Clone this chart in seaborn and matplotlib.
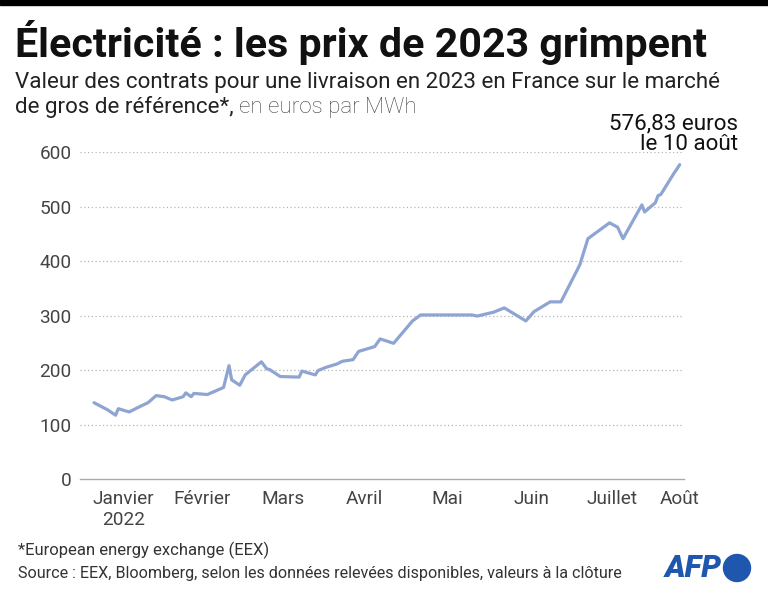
import matplotlib
matplotlib.use("Agg")
import matplotlib.pyplot as plt
from matplotlib.patches import Rectangle, Ellipse
import pandas as pd
import seaborn as sns

# Contrat 2023, marché de gros France (euros/MWh)
dates = [
    "2022-01-05", "2022-01-10", "2022-01-13", "2022-01-14", "2022-01-18",
    "2022-01-22", "2022-01-25", "2022-01-28", "2022-01-31", "2022-02-03",
    "2022-02-07", "2022-02-08", "2022-02-10", "2022-02-11", "2022-02-16",
    "2022-02-22", "2022-02-24", "2022-02-25", "2022-02-28", "2022-03-02",
    "2022-03-03", "2022-03-08", "2022-03-10", "2022-03-11", "2022-03-15",
    "2022-03-22", "2022-03-23", "2022-03-28", "2022-03-29", "2022-04-01",
    "2022-04-05", "2022-04-07", "2022-04-11", "2022-04-13", "2022-04-19",
    "2022-04-21", "2022-04-26", "2022-05-03", "2022-05-06", "2022-05-25",
    "2022-05-27", "2022-06-02", "2022-06-06", "2022-06-14", "2022-06-17",
    "2022-06-23", "2022-06-27", "2022-07-04", "2022-07-07", "2022-07-15",
    "2022-07-18", "2022-07-20", "2022-07-27", "2022-07-28", "2022-08-01",
    "2022-08-02", "2022-08-03", "2022-08-08", "2022-08-09", "2022-08-10",
]
prices = [
    140, 127, 117, 129, 123,
    133, 140, 153, 151, 145,
    151, 158, 151, 157, 155,
    168, 208, 182, 172, 191,
    195, 215, 202, 201, 188,
    187, 198, 191, 199, 205,
    211, 216, 219, 234, 243,
    257, 249, 290, 301, 301,
    299, 306, 314, 290, 307,
    325, 325, 393, 441, 470,
    462, 441, 503, 490, 507,
    520, 522, 562, 569, 576.83,
]

month_starts = ["2022-01-01", "2022-02-01", "2022-03-01", "2022-04-01",
                "2022-05-01", "2022-06-01", "2022-07-01", "2022-08-01"]
month_label_dates = ["2022-01-16", "2022-02-14", "2022-03-16", "2022-04-15",
                     "2022-05-16", "2022-06-16", "2022-07-16", "2022-08-10"]
month_labels = ["Janvier\n2022", "Février", "Mars", "Avril", "Mai", "Juin",
                "Juillet", "Août"]
y_ticks = [0, 100, 200, 300, 400, 500, 600]

df = pd.DataFrame({"date": pd.to_datetime(dates), "prix": prices})

sns.set_theme(style="white")
plt.rcParams["font.family"] = ["Roboto", "DejaVu Sans"]

W, H = 768, 596
fig = plt.figure(figsize=(W / 100, H / 100), dpi=100)
renderer = fig.canvas.get_renderer()


def fit_width(t, target_px):
    w = t.get_window_extent(renderer).width
    t.set_fontsize(t.get_fontsize() * target_px / w)
    return t.get_fontsize()


# bandeau et titres
fig.add_artist(Rectangle((0, 1 - 5 / H), 1, 5 / H, transform=fig.transFigure,
                         color="black"))
title = fig.text(15 / W, 1 - 57 / H, "Électricité : les prix de 2023 grimpent",
                 fontsize=30, fontweight="bold", color="#111111", va="baseline")
fit_width(title, 690)
sub = fig.text(15 / W, 1 - 88 / H,
               "Valeur des contrats pour une livraison en 2023 en France sur le marché",
               fontsize=15, color="#222222", va="baseline")
fs = fit_width(sub, 707)
t1 = fig.text(15 / W, 1 - 113 / H, "de gros de référence*,", fontsize=fs,
              color="#222222", va="baseline")
bb = t1.get_window_extent(renderer)
fig.text((bb.x1 + 5) / W, 1 - 113 / H, "en euros par MWh", fontsize=fs,
         color="#444444", va="baseline", fontweight="light")

foot1 = fig.text(18 / W, 1 - 555 / H, "*European energy exchange (EEX)",
                 fontsize=11, color="#333333", va="baseline")
fit_width(foot1, 250)
foot2 = fig.text(18 / W, 1 - 578 / H,
                 "Source : EEX, Bloomberg, selon les données relevées disponibles, valeurs à la clôture",
                 fontsize=11, color="#333333", va="baseline")
fit_width(foot2, 602)

# logo
logo = fig.text(665 / W, 1 - 577 / H, "AFP", fontsize=17, fontweight="black",
                fontstyle="italic", color="#1f56ae", va="baseline")
fit_width(logo, 57)
fig.add_artist(Ellipse((737 / W, 1 - 568 / H), 27 / W, 27 / H,
                       transform=fig.transFigure, color="#1f56ae"))

# graphique
ax = fig.add_axes([80 / W, 1 - 479 / H, 604 / W, 327 / H])
sns.lineplot(data=df, x="date", y="prix", ax=ax, color="#8ea4d2",
             linewidth=2.3, clip_on=False)

x0 = pd.Timestamp("2022-01-01")
ax.set_xlim(x0 - pd.Timedelta(days=1.2), x0 + pd.Timedelta(days=222.6))
ax.set_ylim(0, 600)

for sp in ["top", "right", "left"]:
    ax.spines[sp].set_visible(False)
ax.spines["bottom"].set_color("#aaaaaa")
ax.spines["bottom"].set_linewidth(1)

tick_fs = fs * 0.85
ax.set_yticks(y_ticks)
ax.set_yticklabels([str(v) for v in y_ticks])
ax.tick_params(axis="y", length=0, pad=6, labelsize=tick_fs, labelcolor="#444444")
for v in y_ticks[1:]:
    ax.axhline(v, color="#b5b5b5", linewidth=0.9, linestyle=(0, (1, 2)), zorder=0)

ax.set_xticks(pd.to_datetime(month_starts))
ax.set_xticklabels([])
ax.set_xticks(pd.to_datetime(month_label_dates), minor=True)
ax.set_xticklabels(month_labels, minor=True)
ax.tick_params(axis="x", which="major", length=5, width=1, color="#aaaaaa")
ax.tick_params(axis="x", which="minor", length=0, pad=8, labelsize=tick_fs,
               labelcolor="#444444")
ax.set_xlabel("")
ax.set_ylabel("")

note = ax.annotate("576,83 euros\nle 10 août", xy=(1 - 30 / W, 1 - 155 / H),
                   xycoords="figure fraction", ha="right", va="bottom",
                   fontsize=fs, color="#111111", linespacing=1.0)

fig.savefig("out.png", dpi=100)
